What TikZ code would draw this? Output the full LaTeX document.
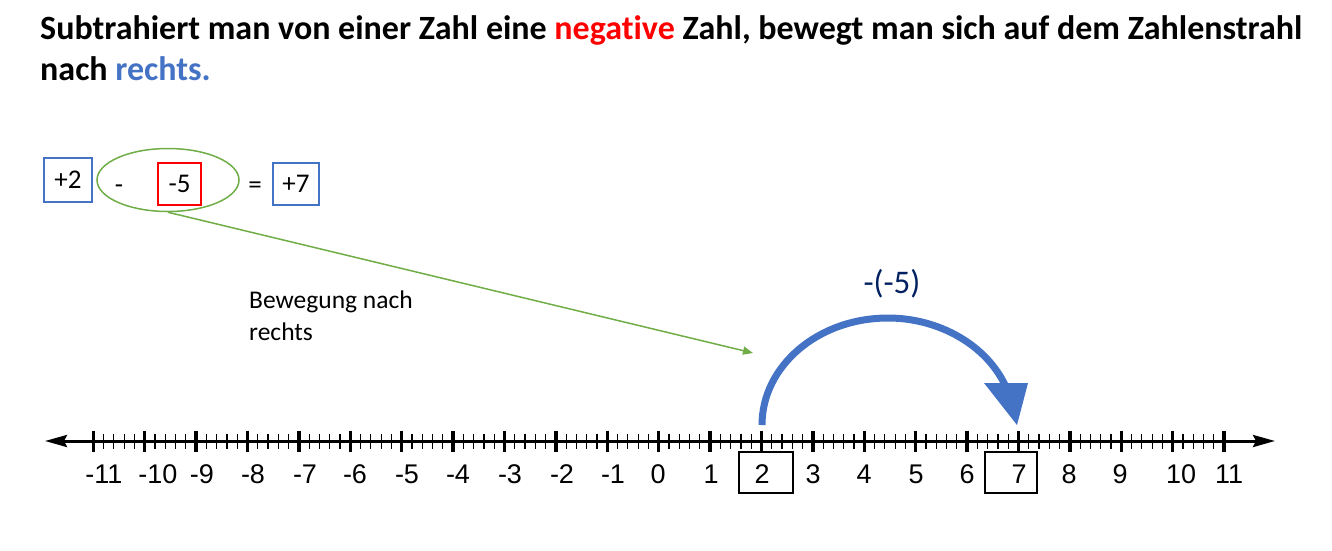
\documentclass[tikz,border=0pt]{standalone}
\usepackage{fontspec}
\setmainfont{Carlito}[Ligatures=NoCommon]
\newfontfamily\helv{Liberation Sans}
\usetikzlibrary{shapes.geometric,arrows.meta}
\definecolor{offblue}{HTML}{4472C4}
\definecolor{offgreen}{HTML}{70AD47}
\definecolor{offred}{HTML}{FF0000}
\definecolor{navy}{HTML}{002060}

\begin{document}
\begin{tikzpicture}[x=1pt,y=-1pt]
\useasboundingbox (0,0) rectangle (1332,550);
% title
\node[anchor=base west,inner sep=0,font=\fontsize{34}{40}\selectfont\bfseries] (t1) at (40,39) {Subtrahiert man von einer Zahl eine \textcolor{offred}{negative} Zahl, bewegt man sich auf dem Zahlenstrahl};
\node[anchor=base west,inner sep=0,font=\fontsize{34}{40}\selectfont\bfseries] (t2) at (40,80) {nach \textcolor{offblue}{rechts.}};
% equation
\node[draw=offblue,line width=1.5pt,minimum width=48,minimum height=44,font=\fontsize{27}{30}\selectfont] (a) at (68,180) {+2};
\node[ellipse,draw=offgreen,line width=1.5pt,minimum width=142,minimum height=63,inner sep=0] (sub) at (168,180) {};
\node[anchor=base,font=\fontsize{27}{30}\selectfont] (minus) at (119,193) {-};
\node[draw=offred,line width=1.5pt,minimum width=43,minimum height=42,font=\fontsize{27}{30}\selectfont] (b) at (179.5,184) {-5};
\node[anchor=base,font=\fontsize{27}{30}\selectfont] (eq) at (255,193) {=};
\node[draw=offblue,line width=1.5pt,minimum width=46,minimum height=42,font=\fontsize{27}{30}\selectfont] (c) at (296,184) {+7};
% green arrow
\coordinate (gtip) at (753,353);
\draw[offgreen,line width=1.5pt,-{Triangle[length=10pt,width=8pt]}] (sub.south) -- (gtip);
\node[anchor=base west,inner sep=0,font=\fontsize{25.5}{28}\selectfont] (mv1) at (249,308) {Bewegung nach};
\node[anchor=base west,inner sep=0,font=\fontsize{25.5}{28}\selectfont] (mv2) at (249,340) {rechts};
% number line
\coordinate (lend) at (45,441);
\coordinate (rend) at (1275,441);
\draw[line width=3pt,{Stealth[length=22pt,width=12pt,inset=3pt]}-{Stealth[length=22pt,width=12pt,inset=3pt]}] (lend) -- (rend);
\foreach \i in {0,...,110}
  \draw[line width=1.2pt] ({93.3+\i*10.28},433.5) -- ++(0,15);
\foreach \n in {-11,...,11}
  \draw[line width=3.5pt] ({658.7+51.4*\n},430.5) -- ++(0,21);
\foreach \n/\x in {-11/104,-10/158,-9/202,-8/253,-7/305,-6/355,-5/407,-4/458,-3/510,-2/562,-1/613,0/658,1/711,2/762,3/813,4/864,5/916,6/967,7/1019,8/1069,9/1120,10/1181,11/1229}
  \node[anchor=base,font=\helv\fontsize{27}{30}\selectfont] (lab\n) at (\x,483) {\n};
\node[draw,line width=1.5pt,minimum width=54,minimum height=41] (box2) at (766,472.5) {};
\node[draw,line width=1.5pt,minimum width=52,minimum height=41] (box7) at (1011,472.5) {};
% jump
\coordinate (from2) at (762,425);
\coordinate (top) at (888,318);
\coordinate (to7) at (1005,385);
\coordinate (tip7) at (1017,425);
\draw[offblue,line width=7pt] (from2) .. controls (762,366) and (818,318) .. (top) .. controls (939,318) and (986,345) .. (to7);
\fill[offblue] (984,383) -- (1028,383) -- (tip7) -- cycle;
\node[anchor=base,text=navy,font=\fontsize{33}{36}\selectfont] (jump) at (892,293) {-(-5)};
\end{tikzpicture}
\end{document}
